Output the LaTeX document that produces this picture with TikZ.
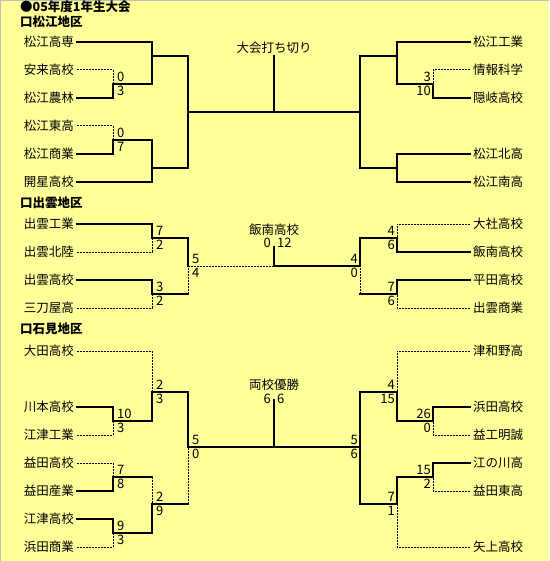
\documentclass[tikz,border=0pt]{standalone}
\usepackage{fontspec}
\setmainfont{Noto Sans CJK JP}
\usetikzlibrary{positioning, calc}
\definecolor{bgyellow}{RGB}{255, 255, 153}
\definecolor{framegray}{RGB}{192, 192, 192}

\begin{document}
\begin{tikzpicture}[x=1pt, y=-1pt]
    \tikzstyle{team}=[inner xsep=3pt, inner ysep=1pt, font=\fontsize{12.5}{12.5}\selectfont]
    \tikzstyle{lteam}=[team, anchor=east]
    \tikzstyle{rteam}=[team, anchor=west]
    \tikzstyle{score}=[inner sep=0pt, font=\fontsize{13}{13}\selectfont]
    \tikzstyle{head}=[anchor=west, inner sep=0pt, font=\fontsize{12.5}{12.5}\selectfont\bfseries]
    \tikzstyle{win}=[line width=2pt, line cap=rect]
    \tikzstyle{lose}=[line width=1pt, dash pattern=on 2pt off 1pt]

    % Background
    \useasboundingbox (0,0) rectangle (549,561);
    \fill[bgyellow] (0,0) rectangle (549,561);
    \draw[framegray, line width=1pt] (0.5,561) -- (0.5,0.5) -- (549,0.5);

    \node[head] (title) at (20,7) {●05年度1年生大会};

    % ---------------- Matsue ----------------
    \node[head] (hd1) at (20,22) {口松江地区};
    \foreach \y/\name/\txt in {42/m1/松江高専, 70/m2/安来高校, 98/m3/松江農林, 126/m4/松江東高, 154/m5/松江商業, 182/m6/開星高校} {
        \node[lteam] (\name) at (77,\y) {\txt};
    }
    \foreach \y/\name/\txt in {42/n1/松江工業, 70/n2/情報科学, 98/n3/隠岐高校, 154/n4/松江北高, 182/n5/松江南高} {
        \node[rteam] (\name) at (470,\y) {\txt};
    }
    \coordinate (ma1) at (113,84);
    \coordinate (ma2) at (113,140);
    \coordinate (ma3) at (152,56);
    \coordinate (ma4) at (152,168);
    \coordinate (ma5) at (188,112);
    \coordinate (mct) at (274,56);
    \coordinate (mc) at (274,112);
    \coordinate (mb1) at (433,84);
    \coordinate (mb3) at (397,56);
    \coordinate (mb4) at (397,168);
    \coordinate (mb5) at (360,112);

    \draw[lose] (m2.east) -| (ma1);
    \draw[win] (m3.east) -| (ma1);
    \draw[lose] (m4.east) -| (ma2);
    \draw[win] (m5.east) -| (ma2);
    \draw[win] (m1.east) -| (ma3);
    \draw[win] (ma1) -| (ma3);
    \draw[win] (ma2) -| (ma4);
    \draw[win] (m6.east) -| (ma4);
    \draw[win] (ma3) -| (ma5);
    \draw[win] (ma4) -| (ma5);
    \draw[win] (ma5) -- (mb5);
    \draw[win] (mct) -- (mc);
    \draw[lose] (n2.west) -| (mb1);
    \draw[win] (n3.west) -| (mb1);
    \draw[win] (n1.west) -| (mb3);
    \draw[win] (mb1) -| (mb3);
    \draw[win] (n4.west) -| (mb4);
    \draw[win] (n5.west) -| (mb4);
    \draw[win] (mb3) -| (mb5);
    \draw[win] (mb4) -| (mb5);

    \node[team, inner sep=0pt] (mlabel) at (274,48) {大会打ち切り};
    \foreach \j/\a/\b in {ma1/0/3, ma2/0/7} {
        \node[score, above right=2pt and 4pt of \j] (\j-t) {\a};
        \node[score, below right=2pt and 4pt of \j] (\j-b) {\b};
    }
    \foreach \j/\a/\b in {mb1/3/10} {
        \node[score, above left=2pt and 2pt of \j] (\j-t) {\a};
        \node[score, below left=2pt and 2pt of \j] (\j-b) {\b};
    }

    % ---------------- Izumo ----------------
    \node[head] (hd2) at (20,203) {口出雲地区};
    \foreach \y/\name/\txt in {224/i1/出雲工業, 252/i2/出雲北陸, 280/i3/出雲高校, 308/i4/三刀屋高} {
        \node[lteam] (\name) at (77,\y) {\txt};
    }
    \foreach \y/\name/\txt in {224/j1/大社高校, 252/j2/飯南高校, 280/j3/平田高校, 308/j4/出雲商業} {
        \node[rteam] (\name) at (470,\y) {\txt};
    }
    \coordinate (ia1) at (152,238);
    \coordinate (ia2) at (152,294);
    \coordinate (ia3) at (188,266);
    \coordinate (ict) at (274,247);
    \coordinate (ic) at (274,266);
    \coordinate (jb1) at (397,238);
    \coordinate (jb2) at (397,294);
    \coordinate (jb3) at (360,266);

    \draw[win] (i1.east) -| (ia1);
    \draw[lose] (i2.east) -| (ia1);
    \draw[win] (i3.east) -| (ia2);
    \draw[lose] (i4.east) -| (ia2);
    \draw[win] (ia1) -| (ia3);
    \draw[win] (ia2) -- (ia2 -| ia3);
    \draw[lose] (ia2 -| ia3) -- (ia3);
    \draw[lose] (ia3) -- (ic);
    \draw[win] (ic) -- (jb3);
    \draw[win] (ict) -- (ic);
    \draw[lose] (j1.west) -| (jb1);
    \draw[win] (j2.west) -| (jb1);
    \draw[win] (j3.west) -| (jb2);
    \draw[lose] (j4.west) -| (jb2);
    \draw[win] (jb1) -| (jb3);
    \draw[win] (jb2) -- (jb2 -| jb3);
    \draw[lose] (jb2 -| jb3) -- (jb3);

    \node[team, inner sep=0pt] (ilabel) at (274,230) {飯南高校};
    \node[score, anchor=east] (ic-l) at (271,243) {0};
    \node[score, anchor=west] (ic-r) at (277,243) {12};
    \foreach \j/\a/\b in {ia1/7/2, ia2/3/2, ia3/5/4} {
        \node[score, above right=2pt and 4pt of \j] (\j-t) {\a};
        \node[score, below right=2pt and 4pt of \j] (\j-b) {\b};
    }
    \foreach \j/\a/\b in {jb1/4/6, jb2/7/6, jb3/4/0} {
        \node[score, above left=2pt and 2pt of \j] (\j-t) {\a};
        \node[score, below left=2pt and 2pt of \j] (\j-b) {\b};
    }

    % ---------------- Iwami ----------------
    \node[head] (hd3) at (20,329) {口石見地区};
    \foreach \y/\name/\txt in {351/k1/大田高校, 407/k2/川本高校, 435/k3/江津工業, 463/k4/益田高校, 491/k5/益田産業, 519/k6/江津高校, 547/k7/浜田商業} {
        \node[lteam] (\name) at (77,\y) {\txt};
    }
    \foreach \y/\name/\txt in {351/l1/津和野高, 407/l2/浜田高校, 435/l3/益工明誠, 463/l4/江の川高, 491/l5/益田東高, 547/l6/矢上高校} {
        \node[rteam] (\name) at (470,\y) {\txt};
    }
    \coordinate (ka1) at (113,421);
    \coordinate (ka2) at (152,392);
    \coordinate (ka3) at (113,477);
    \coordinate (ka4) at (113,533);
    \coordinate (ka5) at (152,504);
    \coordinate (ka6) at (188,447);
    \coordinate (kct) at (274,400);
    \coordinate (kc) at (274,447);
    \coordinate (lb1) at (433,421);
    \coordinate (lb2) at (433,477);
    \coordinate (lb4) at (397,392);
    \coordinate (lb5) at (397,504);
    \coordinate (lb6) at (360,447);

    \draw[win] (k2.east) -| (ka1);
    \draw[lose] (k3.east) -| (ka1);
    \draw[lose] (k1.east) -| (ka2);
    \draw[win] (ka1) -| (ka2);
    \draw[lose] (k4.east) -| (ka3);
    \draw[win] (k5.east) -| (ka3);
    \draw[win] (k6.east) -| (ka4);
    \draw[lose] (k7.east) -| (ka4);
    \draw[win] (ka3) -- (ka3 -| ka5);
    \draw[lose] (ka3 -| ka5) -- (ka5);
    \draw[win] (ka4) -| (ka5);
    \draw[win] (ka2) -| (ka6);
    \draw[win] (ka5) -- (ka5 -| ka6);
    \draw[lose] (ka5 -| ka6) -- (ka6);
    \draw[win] (ka6) -- (lb6);
    \draw[win] (kct) -- (kc);
    \draw[lose] (l1.west) -| (lb4);
    \draw[win] (l2.west) -| (lb1);
    \draw[lose] (l3.west) -| (lb1);
    \draw[win] (lb1) -| (lb4);
    \draw[win] (l4.west) -| (lb2);
    \draw[lose] (l5.west) -| (lb2);
    \draw[win] (lb2) -| (lb5);
    \draw[lose] (l6.west) -| (lb5);
    \draw[win] (lb4) -| (lb6);
    \draw[win] (lb5) -| (lb6);

    \node[team, inner sep=0pt] (klabel) at (274,385) {両校優勝};
    \node[score, anchor=east] (kc-l) at (271,399) {6};
    \node[score, anchor=west] (kc-r) at (277,399) {6};
    \foreach \j/\a/\b in {ka1/10/3, ka2/2/3, ka3/7/8, ka4/9/3, ka5/2/9, ka6/5/0} {
        \node[score, above right=2pt and 4pt of \j] (\j-t) {\a};
        \node[score, below right=2pt and 4pt of \j] (\j-b) {\b};
    }
    \foreach \j/\a/\b in {lb1/26/0, lb2/15/2, lb4/4/15, lb5/7/1, lb6/5/6} {
        \node[score, above left=2pt and 2pt of \j] (\j-t) {\a};
        \node[score, below left=2pt and 2pt of \j] (\j-b) {\b};
    }
\end{tikzpicture}
\end{document}
